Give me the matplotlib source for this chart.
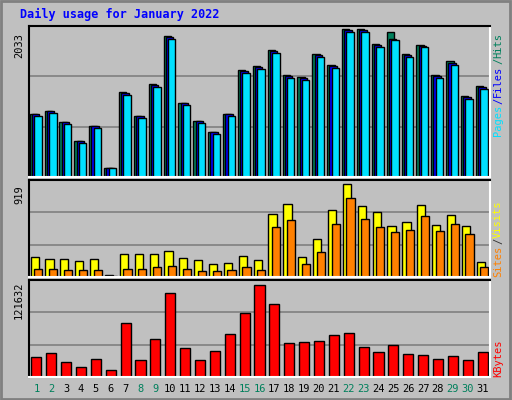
import matplotlib
matplotlib.use('Agg')
import matplotlib.pyplot as plt
import numpy as np

days = list(range(1, 32))
weekend = [1, 2, 8, 9, 15, 16, 22, 23, 29, 30]
hits = [871, 913, 761, 498, 705, 124, 1162, 844, 1272, 1936, 1023, 774, 622, 871, 1466, 1521,
        1743, 1397, 1369, 1687, 1535, 2033, 2030, 1826, 1992, 1687, 1812, 1397, 1590, 1106, 1245]
files = [860, 902, 750, 488, 695, 120, 1150, 833, 1260, 1922, 1012, 763, 612, 860, 1452, 1508,
         1730, 1385, 1357, 1673, 1522, 2020, 2018, 1812, 1900, 1675, 1800, 1385, 1560, 1095, 1233]
pages = [840, 880, 730, 470, 675, 120, 1130, 815, 1240, 1900, 990, 745, 595, 840, 1430, 1480,
         1700, 1360, 1335, 1650, 1500, 1990, 1990, 1790, 1881, 1650, 1780, 1360, 1535, 1075, 1215]
visits = [200, 180, 180, 160, 180, 20, 230, 230, 230, 260, 190, 170, 130, 140, 210, 170,
          620, 720, 200, 380, 660, 919, 700, 640, 500, 540, 710, 510, 610, 500, 150]
sites = [80, 80, 70, 70, 70, 10, 80, 80, 100, 110, 80, 60, 60, 70, 100, 70,
         490, 560, 130, 250, 520, 780, 570, 490, 440, 460, 600, 450, 520, 430, 100]
kbytes = [26740, 32090, 20060, 13370, 24070, 9360, 70860, 22730, 50810, 110970, 38770, 22730,
          34760, 57490, 84230, 121632, 96260, 45460, 46800, 48130, 56150, 58830, 40110, 33430,
          42780, 30750, 29410, 24070, 28080, 22730, 33430]

BG = '#c0c0c0'
W, H = 512, 400
fig = plt.figure(figsize=(W / 100, H / 100), dpi=100, facecolor=BG)
fig.patches.append(plt.Rectangle((0.002, 0.003), 0.994, 0.994, transform=fig.transFigure,
                                 fill=False, edgecolor='#808080', lw=2))


def axes_px(x0, y0, x1, y1):
    return fig.add_axes([x0 / W, 1 - y1 / H, (x1 - x0) / W, (y1 - y0) / H])


def style(ax, top):
    ax.set_facecolor(BG)
    ax.set_xlim(0.5, 31.5)
    ax.set_ylim(0, top)
    ax.set_xticks([])
    ax.set_yticks([])
    for f in (1 / 3, 2 / 3):
        ax.axhline(top * f, color='#808080', lw=1.2, zorder=0)
    for s in ax.spines.values():
        s.set_linewidth(1.5)
    ax.spines['right'].set_color('white')
    ax.spines['bottom'].set_color('white')


x = np.array(days)
mono = 'DejaVu Sans Mono'

ax1 = axes_px(29, 26, 490, 177)
style(ax1, 2033 * 150 / 147)
ax1.bar(x - 0.2, hits, width=0.5, color='#00805c', edgecolor='black', lw=1)
ax1.bar(x - 0.05, files, width=0.5, color='#0000ff', edgecolor='black', lw=1)
ax1.bar(x + 0.1, pages, width=0.5, color='#00e0ff', edgecolor='black', lw=1)

ax2 = axes_px(29, 180, 490, 277)
style(ax2, 919 * 96 / 92)
ax2.bar(x - 0.12, visits, width=0.55, color='#ffff00', edgecolor='black', lw=1)
ax2.bar(x + 0.12, sites, width=0.55, color='#ff8000', edgecolor='black', lw=1)

ax3 = axes_px(29, 280, 490, 377)
style(ax3, 121632 * 96 / 91)
ax3.bar(x, kbytes, width=0.68, color='#ff0000', edgecolor='black', lw=1)

fig.text(20 / W, 1 - 14 / H, 'Daily usage for January 2022', color='#0000ff',
         family=mono, fontsize=8.5, fontweight='bold', va='center')
for yy, lab in [(45, '2033'), (195, '919'), (300, '121632')]:
    fig.text(19 / W, 1 - yy / H, lab, rotation=90, ha='center', va='center',
             family=mono, fontsize=7.5)

for d in days:
    fig.text((29 + (d - 0.5) * 461 / 31) / W, 1 - 389 / H, str(d), ha='center', va='center',
             fontsize=7.5, family=mono, color='#00805c' if d in weekend else 'black')


def vlabel(ybottom, parts):
    y = ybottom
    for txt, col in parts:
        fig.text(498 / W, 1 - y / H, txt, rotation=90, ha='center', va='bottom',
                 family=mono, fontsize=7.5, color=col)
        y -= len(txt) * 6.5


vlabel(136, [('Pages', '#00e0ff'), ('/', '#0000ff'), ('Files', '#0000ff'),
             ('/', '#00805c'), ('Hits', '#00805c')])
vlabel(277, [('Sites', '#ff8000'), ('/', '#333333'), ('Visits', '#ffff00')])
vlabel(377, [('KBytes', '#ff0000')])

fig.savefig('out.png', dpi=100, facecolor=BG)
